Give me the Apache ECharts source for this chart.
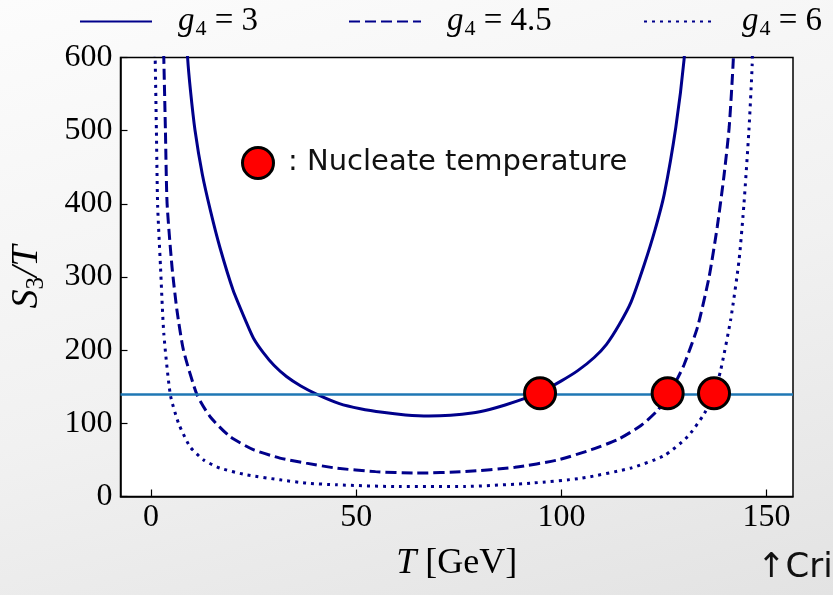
<!DOCTYPE html>
<html>
<head>
<meta charset="utf-8">
<script src="https://cdn.jsdelivr.net/npm/echarts@6/dist/echarts.min.js"></script>
<style>
  html, body { margin: 0; padding: 0; }
  body { background: linear-gradient(165deg, #fcfcfc 0%, #f1f1f1 55%, #e3e3e3 100%); }
  #chart { width: 833px; height: 595px; }
</style>
</head>
<body>
<div id="chart"></div>
<script>
// curves: [T (GeV), S3/T]
const curveG3 = [
  [8.6, 640], [8.9, 600], [9.6, 555], [10.7, 501], [12.5, 440], [14.5, 390],
  [16.8, 340], [20.0, 282], [23.3, 237], [25.0, 216], [27.3, 197], [30.0, 179],
  [33.0, 164], [36.5, 151], [40.3, 140], [45.9, 127], [51.0, 120], [56.4, 115],
  [62.0, 111.5], [67.7, 110], [73.0, 111], [78.2, 114], [82.5, 119], [86.3, 125],
  [91.1, 134], [94.8, 142], [100.0, 158], [104.0, 172], [108.0, 190], [111.0, 208],
  [114.0, 234], [117.0, 266], [120.2, 317], [122.8, 364], [125.1, 414], [127.9, 505],
  [129.9, 597], [130.2, 640]
];
const curveG45 = [
  [2.9, 650], [3.1, 600], [3.5, 500], [3.9, 401], [5.1, 314], [6.3, 255],
  [7.9, 200], [11.2, 139], [14.4, 109], [19.2, 82], [24.9, 64], [31.4, 52.5],
  [37.8, 45.6], [45.1, 38.8], [54.7, 34], [64.4, 32], [76.6, 34], [88.7, 40],
  [99.2, 50], [107.3, 64], [113.8, 78], [119.4, 97], [123.5, 118], [125.9, 138],
  [127.9, 157], [129.9, 180], [133.2, 232], [136.0, 300], [138.0, 369], [139.6, 437],
  [140.9, 505], [141.9, 597], [142.1, 650]
];
const curveG6 = [
  [0.8, 650], [1.0, 600], [1.3, 500], [1.6, 398], [2.3, 314], [3.1, 223],
  [4.7, 139], [6.7, 100], [9.5, 68], [12.8, 50], [16.8, 38.8], [23.3, 29.6],
  [31.4, 22.8], [37.8, 18.3], [45.1, 16], [60.4, 13.5], [76.6, 13.7], [92.7, 18.3],
  [104.9, 25], [117.0, 39], [125.1, 56], [130.8, 82], [134.8, 113], [137.2, 141],
  [138.8, 172], [141.3, 243], [143.3, 323], [144.5, 400], [145.7, 500], [146.5, 590],
  [146.7, 650]
];
const seriesNames = ['g4 = 3', 'g4 = 4.5', 'g4 = 6'];
const legendValues = ['3', '4.5', '6'];
const nucleatePoints = [[94.8, 141], [125.9, 141], [137.2, 141]];
const criterion = 140;
const xTicks = [0, 50, 100, 150];
const xRange = [-7.45, 156.45];
const yRange = [0, 600];

const navy = '#00008b';
const serif = 'Liberation Serif';
const legendLeft = [74, 343, 638];

const chart = echarts.init(document.getElementById('chart'));

function curve(name, data, dash) {
  return {
    name: name,
    type: 'line',
    data: data,
    smooth: 0.2,
    symbol: 'none',
    clip: true,
    lineStyle: { color: navy, width: 3, type: dash, cap: 'butt' },
    itemStyle: { color: navy },
    z: 3
  };
}

// one legend block per series so each sits where the reference puts it
const legends = seriesNames.map((name, i) => ({
  data: [name],
  left: legendLeft[i], top: 0,
  itemWidth: 72, itemHeight: 14,
  itemStyle: { opacity: 0, borderWidth: 0 },
  formatter: () => '{i|g}{s|4}{n| = ' + legendValues[i] + '}',
  textStyle: {
    fontFamily: serif, fontSize: 33, color: '#000', padding: [0, 0, 0, 21],
    rich: {
      i: { fontFamily: serif, fontStyle: 'italic', fontSize: 33 },
      s: { fontFamily: serif, fontSize: 22, padding: [15, 0, 0, 1] },
      n: { fontFamily: serif, fontSize: 33 }
    }
  }
}));

chart.setOption({
  backgroundColor: 'transparent',
  animation: false,
  grid: {
    left: 116.5, top: 57.5, right: 40, bottom: 98.5,
    show: true, backgroundColor: '#fff', borderColor: '#000', borderWidth: 1.5
  },
  legend: legends,
  xAxis: {
    type: 'value',
    min: xRange[0], max: xRange[1],
    name: '{i|T} [GeV]',
    nameLocation: 'middle', nameGap: 49,
    nameTextStyle: {
      fontFamily: serif, fontSize: 36, color: '#000',
      rich: { i: { fontFamily: serif, fontStyle: 'italic', fontSize: 36 } }
    },
    axisLine: { onZero: false, lineStyle: { color: '#000', width: 1.5 } },
    axisTick: { inside: true, length: 7, customValues: xTicks, lineStyle: { color: '#000', width: 1.2 } },
    axisLabel: { customValues: xTicks, fontFamily: serif, fontSize: 32, color: '#000', margin: 5 },
    splitLine: { show: false }
  },
  yAxis: {
    type: 'value',
    min: yRange[0], max: yRange[1], interval: 100,
    name: '{i|S}{s|3}{i|/T}',
    nameLocation: 'middle', nameGap: 72, nameRotate: 90,
    nameTextStyle: {
      fontFamily: serif, fontSize: 38, color: '#000',
      rich: {
        i: { fontFamily: serif, fontStyle: 'italic', fontSize: 38 },
        s: { fontFamily: serif, fontSize: 25, padding: [18, 0, 0, 0] }
      }
    },
    axisLine: { show: true, onZero: false, lineStyle: { color: '#000', width: 1.5 } },
    axisTick: { show: true, inside: true, length: 7, lineStyle: { color: '#000', width: 1.2 } },
    axisLabel: { fontFamily: serif, fontSize: 32, color: '#000', margin: 8 },
    splitLine: { show: false }
  },
  series: [
    curve(seriesNames[0], curveG3, 'solid'),
    curve(seriesNames[1], curveG45, [11, 5]),
    curve(seriesNames[2], curveG6, [3, 5]),
    {
      type: 'line',
      data: [],
      markLine: {
        silent: true, symbol: 'none', label: { show: false },
        lineStyle: { color: '#1f77b4', width: 2.5, type: 'solid' },
        data: [{ yAxis: criterion }]
      },
      z: 4
    },
    {
      type: 'scatter',
      data: nucleatePoints,
      symbolSize: 31,
      itemStyle: { color: '#ff0000', borderColor: '#000', borderWidth: 3, opacity: 1 },
      z: 5
    }
  ],
  graphic: [
    {
      type: 'circle', shape: { cx: 258, cy: 163, r: 15.5 }, z: 10,
      style: { fill: '#ff0000', stroke: '#000', lineWidth: 3 }
    },
    {
      type: 'text', left: 288, top: 148, z: 10,
      style: { text: ': Nucleate temperature', font: '29px "DejaVu Sans"', fill: '#111' }
    },
    {
      type: 'text', left: 757, top: 551, z: 10,
      style: { text: '↑Cri', font: '34px "DejaVu Sans"', fill: '#111' }
    }
  ]
});
</script>
</body>
</html>
